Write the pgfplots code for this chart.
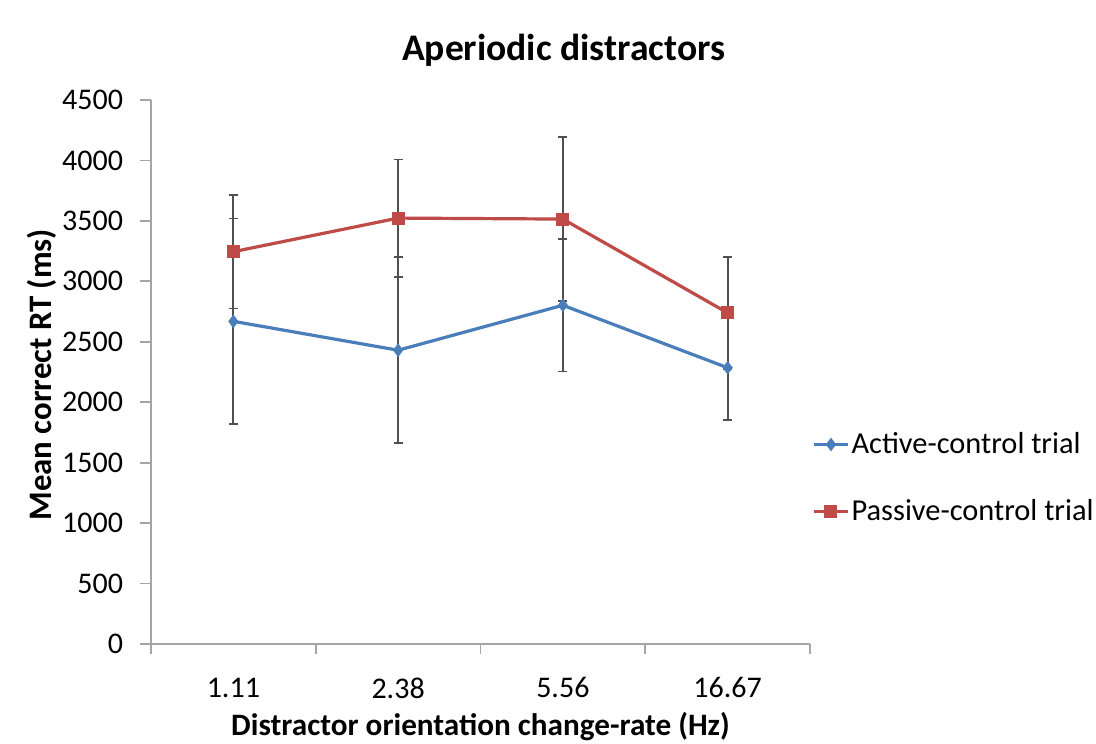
\documentclass[border=0pt]{standalone}
\usepackage{pgfplots}
\pgfplotsset{compat=1.18}
\usepackage{fontspec}
\setmainfont{Carlito}
\definecolor{actblue}{RGB}{74,126,187}
\definecolor{pasred}{RGB}{190,75,72}
\definecolor{axgray}{RGB}{165,165,165}
\definecolor{errgray}{RGB}{80,80,80}
\begin{document}
\begin{tikzpicture}
\begin{axis}[
  scale only axis,
  width=329.5pt, height=272pt,
  xmin=0.5, xmax=4.5,
  ymin=0, ymax=4500,
  ytick={0,500,...,4500},
  xtick={1,2,3,4},
  xticklabels={1.11,2.38,5.56,16.67},
  minor xtick={0.5,1.5,2.5,3.5,4.5},
  axis x line*=bottom, axis y line*=left,
  axis line style={axgray, line width=0.9pt, -},
  major x tick style={draw=none},
  minor x tick style={axgray, line width=0.9pt},
  y tick style={axgray, line width=0.9pt},
  tick align=outside,
  major tick length=5.5pt, minor tick length=5pt,
  /pgf/number format/assume math mode=true,
  /pgf/number format/1000 sep={},
  tick label style={font=\fontsize{15}{18}\selectfont},
  xticklabel style={anchor=center, yshift=-16.5pt},
  yticklabel style={anchor=east, inner sep=0pt, xshift=-8.3pt},
  title={\textbf{Aperiodic distractors}},
  title style={font=\fontsize{18.8}{22}\selectfont, at={(axis description cs:0.626,1.070)}, anchor=center},
  xlabel={\textbf{Distractor orientation change-rate (Hz)}},
  ylabel={\textbf{Mean correct RT (ms)}},
  xlabel style={font=\fontsize{15.6}{19}\selectfont, at={(axis description cs:0.5,-0.152)}, anchor=center},
  ylabel style={font=\fontsize{16.4}{19}\selectfont, at={(axis description cs:-0.166,0.495)}, anchor=center},
  legend style={draw=none, fill=none, at={(axis description cs:1.003,0.305)}, anchor=west,
    font=\fontsize{15.2}{19}\selectfont, row sep=19.5pt, inner sep=0pt,
    nodes={inner sep=1pt}},
  legend cell align=left,
  legend image code/.code={
    \draw[#1] (0pt,0pt) -- (17pt,0pt);
    \draw[#1, mark repeat=2, mark phase=2] plot coordinates {(0pt,0pt) (8.5pt,0pt) (17pt,0pt)};
  },
  clip=false,
]
\coordinate (bl) at (rel axis cs:0,0);
\coordinate (tr) at (rel axis cs:1,1);
\addplot[color=actblue, line width=1.6pt, mark=diamond*, mark size=3pt,
  mark options={fill=actblue, draw=actblue, line width=0.5pt},
  error bars/.cd, y dir=both, y explicit,
  error bar style={errgray, line width=0.9pt},
  error mark options={errgray, line width=0.9pt, rotate=90, mark size=2.3pt}]
  coordinates {
  (1,2669) +- (0,850)
  (2,2430) +- (0,770)
  (3,2802) +- (0,548)
  (4,2285) +- (0,433)
  };
\addlegendentry{Active-control trial}
\addplot[color=pasred, line width=1.6pt, mark=square*, mark size=3pt,
  mark options={fill=pasred, draw=pasred, line width=0.5pt},
  error bars/.cd, y dir=both, y explicit,
  error bar style={errgray, line width=0.9pt},
  error mark options={errgray, line width=0.9pt, rotate=90, mark size=2.3pt}]
  coordinates {
  (1,3245) +- (0,470)
  (2,3523) +- (0,485)
  (3,3515) +- (0,680)
  (4,2739) +- (0,462)
  };
\addlegendentry{Passive-control trial}
\end{axis}
\pgfresetboundingbox
\path[use as bounding box] ([xshift=-75.5pt,yshift=-50pt]bl) rectangle ([xshift=143pt,yshift=50pt]tr);
\end{tikzpicture}
\end{document}
